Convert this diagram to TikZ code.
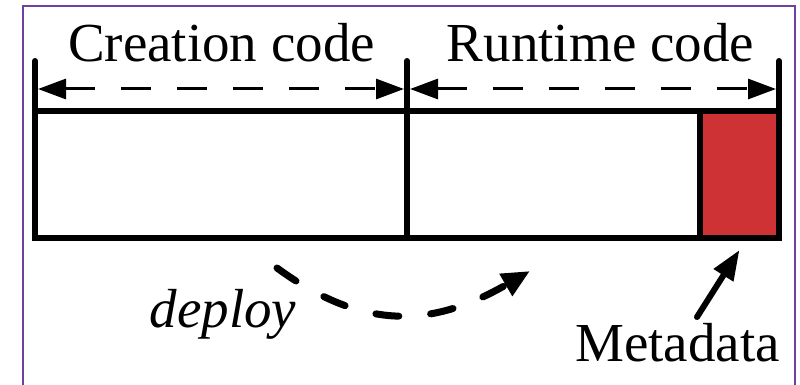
\documentclass[tikz,border=0pt]{standalone}
\usepackage{fontspec}
\setmainfont{Liberation Serif}
\usetikzlibrary{arrows.meta}
\definecolor{framepurple}{RGB}{112,64,160}
\definecolor{metared}{RGB}{206,50,52}

\begin{document}
\begin{tikzpicture}[x=0.5pt,y=-0.5pt,
  seg/.style={draw,line width=3pt,inner sep=0pt,outer sep=0pt,anchor=north west,
    minimum height=63.5pt},
  tick/.style={line width=3pt,line cap=round},
  dimarrow/.style={line width=1.5pt,dash pattern=on 15pt off 13pt,
    {Triangle[length=14pt,width=10pt]}-{Triangle[length=14pt,width=10pt]}},
  deployarrow/.style={line width=3.5pt,line cap=round,dash pattern=on 11.5pt off 16pt,
    -{Triangle[length=14pt,width=12pt]}},
  pointer/.style={line width=3pt,line cap=round,-{Triangle[length=15pt,width=11pt]}},
  lbl/.style={font=\fontsize{27.5}{33}\selectfont,inner sep=0pt,anchor=base}]

  % page and frame
  \useasboundingbox (0,0) rectangle (800,385);
  \fill[white] (0,0) rectangle (800,385);
  \draw[framepurple,line width=1pt] (23,400) -- (23,6) -- (795,6) -- (795,400);

  % code segments
  \node[seg,minimum width=186pt] (creation) at (35,111) {};
  \node[seg,minimum width=146.5pt] (runtime) at (407,111) {};
  \node[seg,fill=metared,minimum width=39.5pt] (meta) at (700,111) {};

  % boundary ticks
  \coordinate (t1) at (35,61);
  \coordinate (t2) at (407,61);
  \coordinate (t3) at (779,61);
  \draw[tick] (creation.south west) -- (t1);
  \draw[tick] (runtime.south west) -- (t2);
  \draw[tick] (meta.south east) -- (t3);

  % extent arrows
  \coordinate (a1) at (38,89);
  \coordinate (a2) at (404,89);
  \coordinate (a3) at (410,89);
  \coordinate (a4) at (776,89);
  \draw[dimarrow] (a1) -- (a2);
  \draw[dimarrow] (a3) -- (a4);

  % labels
  \node[lbl] (lcreation) at (221.5,62) {Creation code};
  \node[lbl] (lruntime) at (600.5,62) {Runtime code};
  \node[lbl] (ldeploy) at (223,328) {\itshape deploy};
  \node[lbl] (lmeta) at (677.5,362) {Metadata};

  % deploy arrow
  \coordinate (ds) at (277,268);
  \coordinate (de) at (530,271);
  \draw[deployarrow] (ds) .. controls (366,333) and (435,326) .. (de);

  % metadata pointer
  \coordinate (mt) at (697,317);
  \draw[pointer] (mt) -- ([yshift=-6pt]meta.south);
\end{tikzpicture}
\end{document}
